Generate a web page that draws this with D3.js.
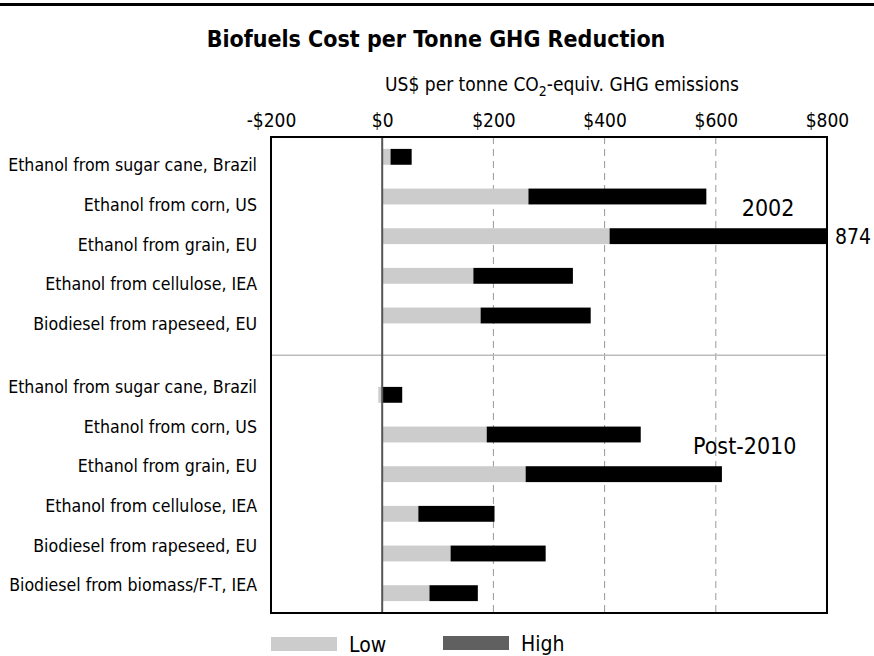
<!DOCTYPE html>
<html>
<head>
<meta charset="utf-8">
<title>Biofuels Cost per Tonne GHG Reduction</title>
<script src="https://cdn.jsdelivr.net/npm/d3@7"></script>
<style>
  body { margin: 0; background: #fff; }
  svg text { font-family: "DejaVu Sans Condensed", "DejaVu Sans", sans-serif; font-stretch: condensed; fill: #000; }
</style>
</head>
<body>
<div id="chart"></div>
<script>
/* Chart data */
var categories = [
  'Ethanol from sugar cane, Brazil',
  'Ethanol from corn, US',
  'Ethanol from grain, EU',
  'Ethanol from cellulose, IEA',
  'Biodiesel from rapeseed, EU',
  '',
  'Ethanol from sugar cane, Brazil',
  'Ethanol from corn, US',
  'Ethanol from grain, EU',
  'Ethanol from cellulose, IEA',
  'Biodiesel from rapeseed, EU',
  'Biodiesel from biomass/F-T, IEA'
];
var periods = ['2002', '2002', '2002', '2002', '2002', '',
  'Post-2010', 'Post-2010', 'Post-2010', 'Post-2010', 'Post-2010', 'Post-2010'];
var lowValues = [15, 263, 409, 164, 177, null, -7, 188, 258, 65, 123, 85];
var highValues = [53, 583, 874, 343, 375, null, 36, 465, 611, 202, 294, 172];
var xTicks = [-200, 0, 200, 400, 600, 800];
var legendKeys = ['Low', 'High'];

function drawChart(target) {
  var width = 874;
  var height = 656;
  var plotLeft = 271, plotRight = 827, plotTop = 137, plotBottom = 613;
  var xMax = 800;

  var svg = d3.select(target).append('svg')
    .attr('width', width)
    .attr('height', height);

  var x = d3.scaleLinear().domain([-200, xMax]).range([plotLeft, plotRight]);
  var y = d3.scaleBand()
    .domain(d3.range(categories.length))
    .range([plotTop, plotBottom])
    .paddingInner(0.6)
    .paddingOuter(0.3);

  function money(d) {
    return d < 0 ? '-$' + (-d) : '$' + d;
  }

  /* top rule and titles */
  svg.append('rect')
    .attr('x', 0).attr('y', 3)
    .attr('width', width).attr('height', 3)
    .attr('fill', '#000');

  svg.append('text')
    .attr('x', 436).attr('y', 47)
    .attr('text-anchor', 'middle')
    .style('font-size', '23px')
    .style('font-weight', 'bold')
    .text('Biofuels Cost per Tonne GHG Reduction');

  var unit = svg.append('text')
    .attr('x', 562).attr('y', 91)
    .attr('text-anchor', 'middle')
    .style('font-size', '19px');
  unit.append('tspan').text('US$ per tonne CO');
  unit.append('tspan').attr('dy', 5).style('font-size', '14px').text('2');
  unit.append('tspan').attr('dy', -5).text('-equiv. GHG emissions');

  /* axis */
  var axis = svg.append('g')
    .attr('transform', 'translate(0,' + plotTop + ')')
    .call(d3.axisTop(x).tickValues(xTicks).tickFormat(money).tickSize(0).tickPadding(10));
  axis.select('.domain').remove();
  axis.selectAll('text')
    .style('font-size', '19px')
    .style('font-family', '"DejaVu Sans Condensed", "DejaVu Sans", sans-serif');

  /* gridlines */
  svg.selectAll('.grid')
    .data(xTicks.filter(function(d) { return d > 0 && d < xMax; }))
    .enter().append('line')
    .attr('class', 'grid')
    .attr('x1', function(d) { return x(d); })
    .attr('x2', function(d) { return x(d); })
    .attr('y1', plotTop).attr('y2', plotBottom)
    .attr('stroke', '#999')
    .attr('stroke-width', 1)
    .attr('stroke-dasharray', '7,5');

  /* separator between periods */
  var gap = categories.indexOf('');
  svg.append('line')
    .attr('x1', plotLeft).attr('x2', plotRight)
    .attr('y1', y(gap) + y.bandwidth() / 2)
    .attr('y2', y(gap) + y.bandwidth() / 2)
    .attr('stroke', '#bbb')
    .attr('stroke-width', 1.5);

  /* bars */
  var rows = d3.range(categories.length).filter(function(i) { return lowValues[i] !== null; });

  svg.selectAll('.low')
    .data(rows)
    .enter().append('rect')
    .attr('class', 'low')
    .attr('x', function(i) { return x(Math.min(0, lowValues[i])); })
    .attr('y', function(i) { return y(i); })
    .attr('width', function(i) { return Math.abs(x(lowValues[i]) - x(0)); })
    .attr('height', y.bandwidth())
    .attr('fill', '#cccccc');

  svg.selectAll('.high')
    .data(rows)
    .enter().append('rect')
    .attr('class', 'high')
    .attr('x', function(i) { return x(Math.max(0, lowValues[i])); })
    .attr('y', function(i) { return y(i); })
    .attr('width', function(i) {
      return x(Math.min(xMax, highValues[i])) - x(Math.max(0, lowValues[i]));
    })
    .attr('height', y.bandwidth())
    .attr('fill', '#000');

  /* value of the bar running off the scale */
  svg.selectAll('.over')
    .data(rows.filter(function(i) { return highValues[i] > xMax; }))
    .enter().append('text')
    .attr('class', 'over')
    .attr('x', x(xMax) + 8)
    .attr('y', function(i) { return y(i) + y.bandwidth() / 2; })
    .attr('dy', '0.37em')
    .style('font-size', '21px')
    .text(function(i) { return highValues[i]; });

  /* zero line and frame */
  svg.append('line')
    .attr('x1', x(0)).attr('x2', x(0))
    .attr('y1', plotTop).attr('y2', plotBottom)
    .attr('stroke', '#555')
    .attr('stroke-width', 2);

  svg.append('rect')
    .attr('x', plotLeft).attr('y', plotTop)
    .attr('width', plotRight - plotLeft).attr('height', plotBottom - plotTop)
    .attr('fill', 'none')
    .attr('stroke', '#000')
    .attr('stroke-width', 2);

  /* category labels */
  svg.selectAll('.cat')
    .data(rows)
    .enter().append('text')
    .attr('class', 'cat')
    .attr('x', 257)
    .attr('y', function(i) {
      var shift = periods[i] === '2002' ? 8.5 : -8;
      return y(i) + y.bandwidth() / 2 + shift;
    })
    .attr('dy', '0.35em')
    .attr('text-anchor', 'end')
    .style('font-size', '17.6px')
    .text(function(i) { return categories[i]; });

  /* period labels */
  var periodNames = ['2002', 'Post-2010'];
  svg.selectAll('.period')
    .data(periodNames)
    .enter().append('text')
    .attr('class', 'period')
    .attr('x', function(p) { return p === '2002' ? x(694) : x(652); })
    .attr('y', function(p) {
      var i = periods.indexOf(p) + 1;
      return y(i) + y.bandwidth() + (y.step() - y.bandwidth()) / 2 - 8;
    })
    .attr('dy', '0.35em')
    .attr('text-anchor', 'middle')
    .style('font-size', '23px')
    .text(function(p) { return p; });

  /* legend */
  var legendColors = ['#cccccc', '#606060'];
  var legend = svg.selectAll('.key')
    .data(legendKeys)
    .enter().append('g')
    .attr('class', 'key')
    .attr('transform', function(d, i) {
      return 'translate(' + (271 + i * 172) + ',' + (637 - i) + ')';
    });
  legend.append('rect')
    .attr('width', 66).attr('height', 14)
    .attr('fill', function(d, i) { return legendColors[i]; });
  legend.append('text')
    .attr('x', 78).attr('y', 7)
    .attr('dy', '0.4em')
    .style('font-size', '21px')
    .text(function(d) { return d; });
}

drawChart('#chart');
</script>
</body>
</html>
